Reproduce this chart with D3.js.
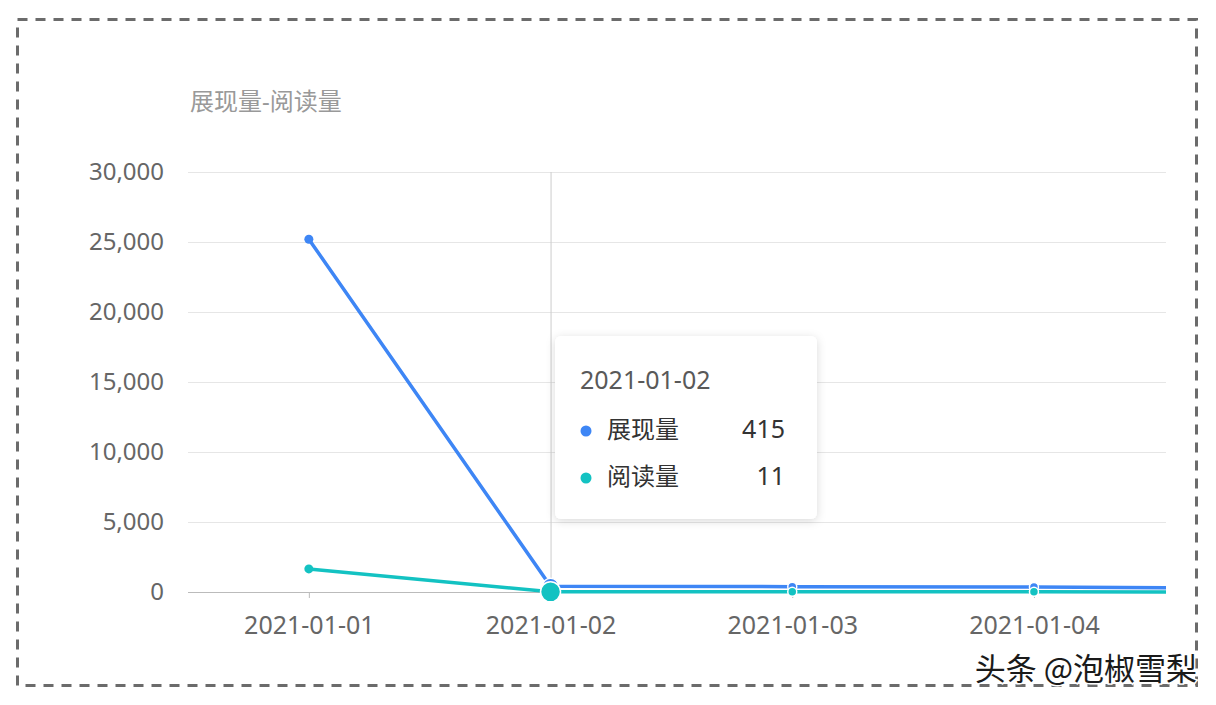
<!DOCTYPE html>
<html><head><meta charset="utf-8">
<script src="https://cdn.jsdelivr.net/npm/d3@7"></script>
<style>
html,body{margin:0;padding:0;background:#fff;}
svg{display:block;font-family:"Noto Sans","Noto Sans CJK SC",sans-serif;}
</style></head><body>
<svg id="c" width="1216" height="705"></svg>
<script>
const categories = ["2021-01-01","2021-01-02","2021-01-03","2021-01-04","2021-01-05"];
const impressions = [25200, 415, 380, 360, 250];
const reads = [1650, 11, 10, 10, 8];
const seriesNames = ["展现量","阅读量"];
const yTicks = [0,5000,10000,15000,20000,25000,30000];
const title = "展现量-阅读量";
const hoverIndex = 1;
const colors = ["#3e86f5","#13c2c2"];

const svg = d3.select("#c");
const FF = '"Noto Sans","Noto Sans CJK SC",sans-serif';
// dashed frame
svg.append("rect").attr("x",17.5).attr("y",19.5).attr("width",1179).attr("height",666)
  .attr("fill","none").attr("stroke","#6b6b6b").attr("stroke-width",3).attr("stroke-dasharray","10,8");

const pL = 188, pR = 1166, pT = 172, pB = 592;
const step = 241.7;
const x = d3.scalePoint().domain(categories).range([pL+step/2, pL+step/2+step*(categories.length-1)]);
const y = d3.scaleLinear().domain([0,30000]).range([pB, pT]);

const defs = svg.append("defs");
defs.append("clipPath").attr("id","clip")
  .append("rect").attr("x",pL).attr("y",pT-20).attr("width",pR-pL).attr("height",pB-pT+40);
defs.append("filter").attr("id","sh").attr("x","-20%").attr("y","-20%").attr("width","140%").attr("height","140%")
  .append("feDropShadow").attr("dx",0).attr("dy",2).attr("stdDeviation",5).attr("flood-color","#000").attr("flood-opacity",0.15);

svg.append("text").attr("x",190).attr("y",110).attr("font-size",24).attr("fill","#999").text(title);

// grid
const yAxis = d3.axisLeft(y).tickValues(yTicks).tickSize(-(pR-pL)).tickFormat(d3.format(","));
const gy = svg.append("g").attr("transform",`translate(${pL},0)`).call(yAxis).attr("font-family",FF);
gy.select(".domain").remove();
gy.selectAll(".tick line").attr("stroke","#e6e6e6");
gy.selectAll(".tick text").attr("font-size",24).attr("fill","#666").attr("x",-24);

// x axis
const gx = svg.append("g").attr("transform",`translate(0,${pB})`)
  .call(d3.axisBottom(x).tickSize(6).tickPadding(18)).attr("font-family",FF);
gx.select(".domain").remove();
gx.selectAll(".tick line").attr("stroke","#bbb");
gx.selectAll(".tick text").attr("font-size",25).attr("fill","#666");
gx.selectAll(".tick").filter(d=>x(d)>pR).remove();
svg.append("line").attr("x1",pL).attr("x2",pR).attr("y1",pB+0.5).attr("y2",pB+0.5).attr("stroke","#bbb");

// crosshair
svg.append("line").attr("x1",x(categories[hoverIndex])+0.5).attr("x2",x(categories[hoverIndex])+0.5)
  .attr("y1",pT).attr("y2",pB).attr("stroke","#ccc").attr("stroke-width",1);

const plot = svg.append("g").attr("clip-path","url(#clip)");
const line = d3.line().x((d,i)=>x(categories[i])).y(d=>y(d));
[impressions, reads].forEach((s,k)=>{
  plot.append("path").datum(s).attr("d",line).attr("fill","none").attr("stroke",colors[k]).attr("stroke-width",3.5);
});
[impressions, reads].forEach((s,k)=>{
  plot.selectAll(null).data(s).enter().append("circle")
    .attr("cx",(d,i)=>x(categories[i])).attr("cy",d=>y(d))
    .attr("r",(d,i)=> i===hoverIndex ? (k===0?8:10) : 4.5)
    .attr("fill",colors[k]).attr("stroke","#fff").attr("stroke-width",(d,i)=>i===0?0:1.5);
});

// tooltip
const tt = svg.append("g").attr("transform","translate(555,336)");
tt.append("rect").attr("width",262).attr("height",183).attr("rx",6).attr("fill","#fff").attr("filter","url(#sh)");
tt.append("text").attr("x",25).attr("y",53).attr("font-size",25).attr("fill","#595959").text(categories[hoverIndex]);
[impressions, reads].forEach((s,k)=>{
  const yy = 102 + k*47;
  tt.append("circle").attr("cx",31).attr("cy",yy-7).attr("r",5.5).attr("fill",colors[k]);
  tt.append("text").attr("x",52).attr("y",yy).attr("font-size",24).attr("fill","#333").text(seriesNames[k]);
  tt.append("text").attr("x",230).attr("y",yy).attr("font-size",25).attr("fill","#333").attr("text-anchor","end").text(d3.format(",")(s[hoverIndex]));
});

// watermark
svg.append("text").attr("x",1197).attr("y",680).attr("text-anchor","end").attr("font-size",31)
  .attr("font-family","Noto Sans CJK SC").attr("fill","#1a1a1a").attr("stroke","#fff").attr("stroke-width",3)
  .attr("paint-order","stroke").text("头条 @泡椒雪梨");
</script></body></html>
